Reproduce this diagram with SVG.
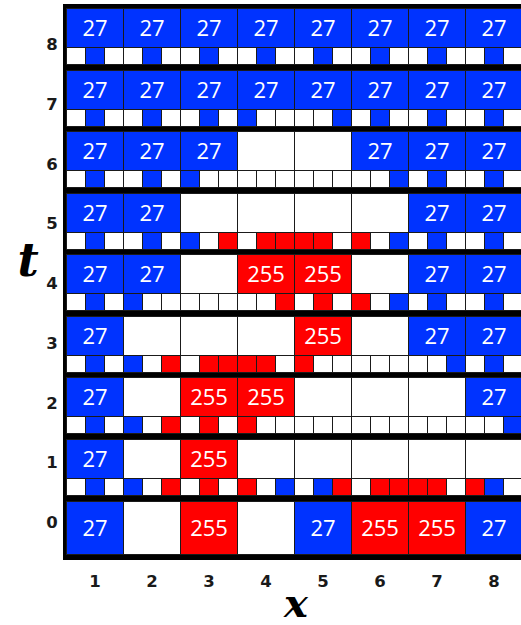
<svg xmlns="http://www.w3.org/2000/svg" xmlns:xlink="http://www.w3.org/1999/xlink" width="521" height="625" viewBox="0 0 521 625">
<style>
.w{fill:#ffffff;stroke:#1a1a1a;stroke-width:1}
.b{fill:#0033ff;stroke:#1a1a1a;stroke-width:1}
.r{fill:#ff0000;stroke:#1a1a1a;stroke-width:1}
.v{font-family:"Open Sans","Noto Sans",sans-serif;font-size:22px;fill:#ffffff;text-anchor:middle}
.lab{font-family:"DejaVu Sans",Verdana,sans-serif;font-weight:bold;font-size:16.5px;fill:#1a1a1a;text-anchor:middle}
.ax{font-family:"DejaVu Serif","Liberation Serif",serif;font-weight:bold;font-style:italic;fill:#000000;text-anchor:middle}
</style>
<defs>
<g id="strip">
<rect class="w" x="66.5" y="0" width="19" height="17"/><rect class="w" x="85.5" y="0" width="19" height="17"/><rect class="w" x="104.5" y="0" width="19" height="17"/>
<rect class="w" x="123.5" y="0" width="19" height="17"/><rect class="w" x="142.5" y="0" width="19" height="17"/><rect class="w" x="161.5" y="0" width="19" height="17"/>
<rect class="w" x="180.5" y="0" width="19" height="17"/><rect class="w" x="199.5" y="0" width="19" height="17"/><rect class="w" x="218.5" y="0" width="19" height="17"/>
<rect class="w" x="237.5" y="0" width="19" height="17"/><rect class="w" x="256.5" y="0" width="19" height="17"/><rect class="w" x="275.5" y="0" width="19" height="17"/>
<rect class="w" x="294.5" y="0" width="19" height="17"/><rect class="w" x="313.5" y="0" width="19" height="17"/><rect class="w" x="332.5" y="0" width="19" height="17"/>
<rect class="w" x="351.5" y="0" width="19" height="17"/><rect class="w" x="370.5" y="0" width="19" height="17"/><rect class="w" x="389.5" y="0" width="19" height="17"/>
<rect class="w" x="408.5" y="0" width="19" height="17"/><rect class="w" x="427.5" y="0" width="19" height="17"/><rect class="w" x="446.5" y="0" width="19" height="17"/>
<rect class="w" x="465.5" y="0" width="19" height="17"/><rect class="w" x="484.5" y="0" width="19" height="17"/><rect class="w" x="503.5" y="0" width="19" height="17"/>
</g>
</defs>
<rect id="frame" x="63" y="4" width="470" height="556" fill="#000000"/>

<g id="row-t8">
<g id="c8-1"><rect class="b" x="66.5" y="8.5" width="57" height="39"/><text class="v" x="95" y="36">27</text></g>
<g id="c8-2"><rect class="b" x="123.5" y="8.5" width="57" height="39"/><text class="v" x="152" y="36">27</text></g>
<g id="c8-3"><rect class="b" x="180.5" y="8.5" width="57" height="39"/><text class="v" x="209" y="36">27</text></g>
<g id="c8-4"><rect class="b" x="237.5" y="8.5" width="57" height="39"/><text class="v" x="266" y="36">27</text></g>
<g id="c8-5"><rect class="b" x="294.5" y="8.5" width="57" height="39"/><text class="v" x="323" y="36">27</text></g>
<g id="c8-6"><rect class="b" x="351.5" y="8.5" width="57" height="39"/><text class="v" x="380" y="36">27</text></g>
<g id="c8-7"><rect class="b" x="408.5" y="8.5" width="57" height="39"/><text class="v" x="437" y="36">27</text></g>
<g id="c8-8"><rect class="b" x="465.5" y="8.5" width="57" height="39"/><text class="v" x="494" y="36">27</text></g>
<g id="s8"><use xlink:href="#strip" y="47.5"/>
<rect class="b" x="85.5" y="47.5" width="19" height="17"/><rect class="b" x="142.5" y="47.5" width="19" height="17"/><rect class="b" x="199.5" y="47.5" width="19" height="17"/><rect class="b" x="256.5" y="47.5" width="19" height="17"/>
<rect class="b" x="313.5" y="47.5" width="19" height="17"/><rect class="b" x="370.5" y="47.5" width="19" height="17"/><rect class="b" x="427.5" y="47.5" width="19" height="17"/><rect class="b" x="484.5" y="47.5" width="19" height="17"/>
</g>
</g>

<g id="row-t7">
<g id="c7-1"><rect class="b" x="66.5" y="70.5" width="57" height="39"/><text class="v" x="95" y="98">27</text></g>
<g id="c7-2"><rect class="b" x="123.5" y="70.5" width="57" height="39"/><text class="v" x="152" y="98">27</text></g>
<g id="c7-3"><rect class="b" x="180.5" y="70.5" width="57" height="39"/><text class="v" x="209" y="98">27</text></g>
<g id="c7-4"><rect class="b" x="237.5" y="70.5" width="57" height="39"/><text class="v" x="266" y="98">27</text></g>
<g id="c7-5"><rect class="b" x="294.5" y="70.5" width="57" height="39"/><text class="v" x="323" y="98">27</text></g>
<g id="c7-6"><rect class="b" x="351.5" y="70.5" width="57" height="39"/><text class="v" x="380" y="98">27</text></g>
<g id="c7-7"><rect class="b" x="408.5" y="70.5" width="57" height="39"/><text class="v" x="437" y="98">27</text></g>
<g id="c7-8"><rect class="b" x="465.5" y="70.5" width="57" height="39"/><text class="v" x="494" y="98">27</text></g>
<g id="s7"><use xlink:href="#strip" y="109.5"/>
<rect class="b" x="85.5" y="109.5" width="19" height="17"/><rect class="b" x="142.5" y="109.5" width="19" height="17"/><rect class="b" x="199.5" y="109.5" width="19" height="17"/><rect class="b" x="237.5" y="109.5" width="19" height="17"/>
<rect class="b" x="332.5" y="109.5" width="19" height="17"/><rect class="b" x="370.5" y="109.5" width="19" height="17"/><rect class="b" x="427.5" y="109.5" width="19" height="17"/><rect class="b" x="484.5" y="109.5" width="19" height="17"/>
</g>
</g>

<g id="row-t6">
<g id="c6-1"><rect class="b" x="66.5" y="131.5" width="57" height="39"/><text class="v" x="95" y="159">27</text></g>
<g id="c6-2"><rect class="b" x="123.5" y="131.5" width="57" height="39"/><text class="v" x="152" y="159">27</text></g>
<g id="c6-3"><rect class="b" x="180.5" y="131.5" width="57" height="39"/><text class="v" x="209" y="159">27</text></g>
<g id="c6-4"><rect class="w" x="237.5" y="131.5" width="57" height="39"/></g>
<g id="c6-5"><rect class="w" x="294.5" y="131.5" width="57" height="39"/></g>
<g id="c6-6"><rect class="b" x="351.5" y="131.5" width="57" height="39"/><text class="v" x="380" y="159">27</text></g>
<g id="c6-7"><rect class="b" x="408.5" y="131.5" width="57" height="39"/><text class="v" x="437" y="159">27</text></g>
<g id="c6-8"><rect class="b" x="465.5" y="131.5" width="57" height="39"/><text class="v" x="494" y="159">27</text></g>
<g id="s6"><use xlink:href="#strip" y="170.5"/>
<rect class="b" x="85.5" y="170.5" width="19" height="17"/><rect class="b" x="142.5" y="170.5" width="19" height="17"/><rect class="b" x="180.5" y="170.5" width="19" height="17"/>
<rect class="b" x="389.5" y="170.5" width="19" height="17"/><rect class="b" x="427.5" y="170.5" width="19" height="17"/><rect class="b" x="484.5" y="170.5" width="19" height="17"/>
</g>
</g>

<g id="row-t5">
<g id="c5-1"><rect class="b" x="66.5" y="193.5" width="57" height="39"/><text class="v" x="95" y="221">27</text></g>
<g id="c5-2"><rect class="b" x="123.5" y="193.5" width="57" height="39"/><text class="v" x="152" y="221">27</text></g>
<g id="c5-3"><rect class="w" x="180.5" y="193.5" width="57" height="39"/></g>
<g id="c5-4"><rect class="w" x="237.5" y="193.5" width="57" height="39"/></g>
<g id="c5-5"><rect class="w" x="294.5" y="193.5" width="57" height="39"/></g>
<g id="c5-6"><rect class="w" x="351.5" y="193.5" width="57" height="39"/></g>
<g id="c5-7"><rect class="b" x="408.5" y="193.5" width="57" height="39"/><text class="v" x="437" y="221">27</text></g>
<g id="c5-8"><rect class="b" x="465.5" y="193.5" width="57" height="39"/><text class="v" x="494" y="221">27</text></g>
<g id="s5"><use xlink:href="#strip" y="232.5"/>
<rect class="b" x="85.5" y="232.5" width="19" height="17"/><rect class="b" x="142.5" y="232.5" width="19" height="17"/><rect class="b" x="180.5" y="232.5" width="19" height="17"/>
<rect class="r" x="218.5" y="232.5" width="19" height="17"/><rect class="r" x="256.5" y="232.5" width="19" height="17"/><rect class="r" x="275.5" y="232.5" width="19" height="17"/>
<rect class="r" x="294.5" y="232.5" width="19" height="17"/><rect class="r" x="313.5" y="232.5" width="19" height="17"/><rect class="r" x="351.5" y="232.5" width="19" height="17"/>
<rect class="b" x="389.5" y="232.5" width="19" height="17"/><rect class="b" x="427.5" y="232.5" width="19" height="17"/><rect class="b" x="484.5" y="232.5" width="19" height="17"/>
</g>
</g>

<g id="row-t4">
<g id="c4-1"><rect class="b" x="66.5" y="254.5" width="57" height="39"/><text class="v" x="95" y="282">27</text></g>
<g id="c4-2"><rect class="b" x="123.5" y="254.5" width="57" height="39"/><text class="v" x="152" y="282">27</text></g>
<g id="c4-3"><rect class="w" x="180.5" y="254.5" width="57" height="39"/></g>
<g id="c4-4"><rect class="r" x="237.5" y="254.5" width="57" height="39"/><text class="v" x="266" y="282">255</text></g>
<g id="c4-5"><rect class="r" x="294.5" y="254.5" width="57" height="39"/><text class="v" x="323" y="282">255</text></g>
<g id="c4-6"><rect class="w" x="351.5" y="254.5" width="57" height="39"/></g>
<g id="c4-7"><rect class="b" x="408.5" y="254.5" width="57" height="39"/><text class="v" x="437" y="282">27</text></g>
<g id="c4-8"><rect class="b" x="465.5" y="254.5" width="57" height="39"/><text class="v" x="494" y="282">27</text></g>
<g id="s4"><use xlink:href="#strip" y="293.5"/>
<rect class="b" x="85.5" y="293.5" width="19" height="17"/><rect class="b" x="123.5" y="293.5" width="19" height="17"/>
<rect class="r" x="275.5" y="293.5" width="19" height="17"/><rect class="r" x="313.5" y="293.5" width="19" height="17"/><rect class="r" x="351.5" y="293.5" width="19" height="17"/>
<rect class="b" x="389.5" y="293.5" width="19" height="17"/><rect class="b" x="427.5" y="293.5" width="19" height="17"/><rect class="b" x="484.5" y="293.5" width="19" height="17"/>
</g>
</g>

<g id="row-t3">
<g id="c3-1"><rect class="b" x="66.5" y="316.5" width="57" height="39"/><text class="v" x="95" y="344">27</text></g>
<g id="c3-2"><rect class="w" x="123.5" y="316.5" width="57" height="39"/></g>
<g id="c3-3"><rect class="w" x="180.5" y="316.5" width="57" height="39"/></g>
<g id="c3-4"><rect class="w" x="237.5" y="316.5" width="57" height="39"/></g>
<g id="c3-5"><rect class="r" x="294.5" y="316.5" width="57" height="39"/><text class="v" x="323" y="344">255</text></g>
<g id="c3-6"><rect class="w" x="351.5" y="316.5" width="57" height="39"/></g>
<g id="c3-7"><rect class="b" x="408.5" y="316.5" width="57" height="39"/><text class="v" x="437" y="344">27</text></g>
<g id="c3-8"><rect class="b" x="465.5" y="316.5" width="57" height="39"/><text class="v" x="494" y="344">27</text></g>
<g id="s3"><use xlink:href="#strip" y="355.5"/>
<rect class="b" x="85.5" y="355.5" width="19" height="17"/><rect class="b" x="123.5" y="355.5" width="19" height="17"/><rect class="r" x="161.5" y="355.5" width="19" height="17"/>
<rect class="r" x="199.5" y="355.5" width="19" height="17"/><rect class="r" x="218.5" y="355.5" width="19" height="17"/><rect class="r" x="237.5" y="355.5" width="19" height="17"/>
<rect class="r" x="256.5" y="355.5" width="19" height="17"/><rect class="r" x="294.5" y="355.5" width="19" height="17"/>
<rect class="b" x="446.5" y="355.5" width="19" height="17"/><rect class="b" x="484.5" y="355.5" width="19" height="17"/>
</g>
</g>

<g id="row-t2">
<g id="c2-1"><rect class="b" x="66.5" y="377.5" width="57" height="39"/><text class="v" x="95" y="405">27</text></g>
<g id="c2-2"><rect class="w" x="123.5" y="377.5" width="57" height="39"/></g>
<g id="c2-3"><rect class="r" x="180.5" y="377.5" width="57" height="39"/><text class="v" x="209" y="405">255</text></g>
<g id="c2-4"><rect class="r" x="237.5" y="377.5" width="57" height="39"/><text class="v" x="266" y="405">255</text></g>
<g id="c2-5"><rect class="w" x="294.5" y="377.5" width="57" height="39"/></g>
<g id="c2-6"><rect class="w" x="351.5" y="377.5" width="57" height="39"/></g>
<g id="c2-7"><rect class="w" x="408.5" y="377.5" width="57" height="39"/></g>
<g id="c2-8"><rect class="b" x="465.5" y="377.5" width="57" height="39"/><text class="v" x="494" y="405">27</text></g>
<g id="s2"><use xlink:href="#strip" y="416.5"/>
<rect class="b" x="85.5" y="416.5" width="19" height="17"/><rect class="b" x="123.5" y="416.5" width="19" height="17"/><rect class="r" x="161.5" y="416.5" width="19" height="17"/>
<rect class="r" x="199.5" y="416.5" width="19" height="17"/><rect class="r" x="237.5" y="416.5" width="19" height="17"/><rect class="b" x="503.5" y="416.5" width="19" height="17"/>
</g>
</g>

<g id="row-t1">
<g id="c1-1"><rect class="b" x="66.5" y="439.5" width="57" height="39"/><text class="v" x="95" y="467">27</text></g>
<g id="c1-2"><rect class="w" x="123.5" y="439.5" width="57" height="39"/></g>
<g id="c1-3"><rect class="r" x="180.5" y="439.5" width="57" height="39"/><text class="v" x="209" y="467">255</text></g>
<g id="c1-4"><rect class="w" x="237.5" y="439.5" width="57" height="39"/></g>
<g id="c1-5"><rect class="w" x="294.5" y="439.5" width="57" height="39"/></g>
<g id="c1-6"><rect class="w" x="351.5" y="439.5" width="57" height="39"/></g>
<g id="c1-7"><rect class="w" x="408.5" y="439.5" width="57" height="39"/></g>
<g id="c1-8"><rect class="w" x="465.5" y="439.5" width="57" height="39"/></g>
<g id="s1"><use xlink:href="#strip" y="478.5"/>
<rect class="b" x="85.5" y="478.5" width="19" height="17"/><rect class="b" x="123.5" y="478.5" width="19" height="17"/><rect class="r" x="161.5" y="478.5" width="19" height="17"/>
<rect class="r" x="199.5" y="478.5" width="19" height="17"/><rect class="r" x="237.5" y="478.5" width="19" height="17"/><rect class="b" x="275.5" y="478.5" width="19" height="17"/>
<rect class="b" x="313.5" y="478.5" width="19" height="17"/><rect class="r" x="332.5" y="478.5" width="19" height="17"/><rect class="r" x="370.5" y="478.5" width="19" height="17"/>
<rect class="r" x="389.5" y="478.5" width="19" height="17"/><rect class="r" x="408.5" y="478.5" width="19" height="17"/><rect class="r" x="427.5" y="478.5" width="19" height="17"/>
<rect class="r" x="465.5" y="478.5" width="19" height="17"/><rect class="b" x="484.5" y="478.5" width="19" height="17"/>
</g>
</g>

<g id="row-t0">
<g id="c0-1"><rect class="b" x="66.5" y="501.5" width="57" height="53"/><text class="v" x="95" y="536">27</text></g>
<g id="c0-2"><rect class="w" x="123.5" y="501.5" width="57" height="53"/></g>
<g id="c0-3"><rect class="r" x="180.5" y="501.5" width="57" height="53"/><text class="v" x="209" y="536">255</text></g>
<g id="c0-4"><rect class="w" x="237.5" y="501.5" width="57" height="53"/></g>
<g id="c0-5"><rect class="b" x="294.5" y="501.5" width="57" height="53"/><text class="v" x="323" y="536">27</text></g>
<g id="c0-6"><rect class="r" x="351.5" y="501.5" width="57" height="53"/><text class="v" x="380" y="536">255</text></g>
<g id="c0-7"><rect class="r" x="408.5" y="501.5" width="57" height="53"/><text class="v" x="437" y="536">255</text></g>
<g id="c0-8"><rect class="b" x="465.5" y="501.5" width="57" height="53"/><text class="v" x="494" y="536">27</text></g>
</g>

<g id="t-labels">
<text class="lab" x="52" y="50">8</text>
<text class="lab" x="52" y="109.8">7</text>
<text class="lab" x="52" y="169.5">6</text>
<text class="lab" x="52" y="229.3">5</text>
<text class="lab" x="52" y="289">4</text>
<text class="lab" x="52" y="348.8">3</text>
<text class="lab" x="52" y="408.5">2</text>
<text class="lab" x="52" y="468.3">1</text>
<text class="lab" x="52" y="528">0</text>
</g>
<g id="x-labels">
<text class="lab" x="95" y="587">1</text>
<text class="lab" x="152" y="587">2</text>
<text class="lab" x="209" y="587">3</text>
<text class="lab" x="266" y="587">4</text>
<text class="lab" x="323" y="587">5</text>
<text class="lab" x="380" y="587">6</text>
<text class="lab" x="437" y="587">7</text>
<text class="lab" x="494" y="587">8</text>
</g>
<text class="ax" x="28" y="276" font-size="46">t</text>
<text class="ax" x="296" y="617" font-size="40">x</text>
</svg>
